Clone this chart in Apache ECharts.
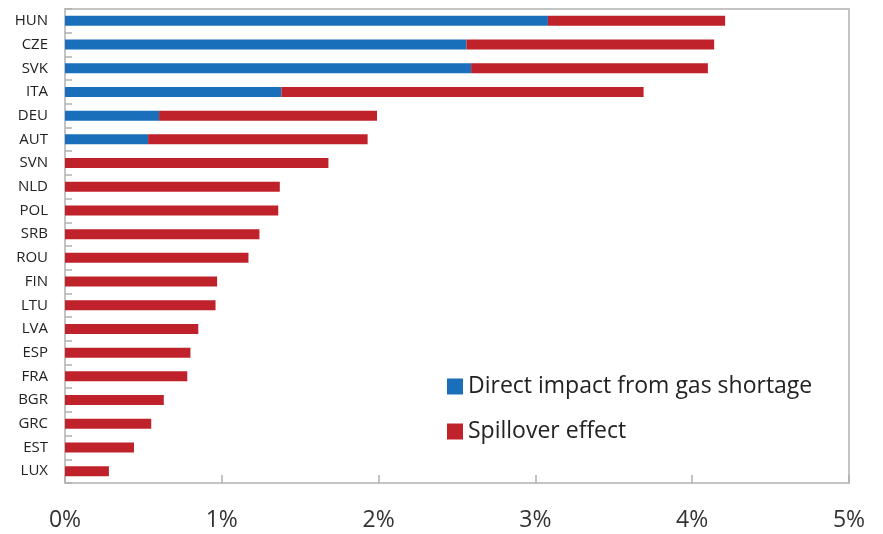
<!DOCTYPE html>
<html>
<head>
<meta charset="utf-8">
<script src="https://cdn.jsdelivr.net/npm/echarts@6/dist/echarts.min.js"></script>
<style>html,body{margin:0;padding:0;background:#fff;}#c{width:883px;height:534px;}</style>
</head>
<body>
<div id="c"></div>
<script>
const categories = ['HUN','CZE','SVK','ITA','DEU','AUT','SVN','NLD','POL','SRB','ROU','FIN','LTU','LVA','ESP','FRA','BGR','GRC','EST','LUX'];
const directImpact = [3.08,2.56,2.59,1.38,0.60,0.53,0,0,0,0,0,0,0,0,0,0,0,0,0,0];
const spillover = [1.13,1.58,1.51,2.31,1.39,1.40,1.68,1.37,1.36,1.24,1.17,0.97,0.96,0.85,0.80,0.78,0.63,0.55,0.44,0.28];
const xTicks = [0,1,2,3,4,5];

const chart = echarts.init(document.getElementById('c'));
const font = '"Open Sans", "Noto Sans", sans-serif';
chart.setOption({
  animation: false,
  textStyle: {fontFamily: font},
  grid: {left: 65, right: 34, top: 9, bottom: 51, show: true, borderColor: '#c4c4c4', borderWidth: 2, containLabel: false},
  legend: {
    orient: 'vertical', left: 442, top: 370, itemGap: 22, itemWidth: 16, itemHeight: 16,
    icon: 'rect',
    textStyle: {fontSize: 23, color: '#222', fontFamily: font},
    data: ['Direct impact from gas shortage','Spillover effect']
  },
  xAxis: {
    type: 'value', min: xTicks[0], max: xTicks[xTicks.length-1], interval: 1,
    axisLine: {show: true, lineStyle: {color: '#c4c4c4', width: 2}},
    axisTick: {show: true, inside: true, length: 8, lineStyle: {color: '#b0b0b0', width: 1.5}},
    splitLine: {show: false},
    axisLabel: {formatter: v => v + '%', fontSize: 23, color: '#333', margin: 26}
  },
  yAxis: {
    type: 'category', data: categories, inverse: true,
    axisLine: {show: true, lineStyle: {color: '#c4c4c4', width: 2}},
    axisTick: {show: true, inside: true, length: 7, lineStyle: {color: '#b0b0b0', width: 1.5}},
    axisLabel: {fontSize: 15, color: '#222', margin: 17}
  },
  series: [
    {name: 'Direct impact from gas shortage', type: 'bar', stack: 't', data: directImpact, barWidth: 10,
     itemStyle: {color: '#1a6fba'}},
    {name: 'Spillover effect', type: 'bar', stack: 't', data: spillover, barWidth: 10,
     itemStyle: {color: '#c0222b'}}
  ]
});
</script>
</body>
</html>
